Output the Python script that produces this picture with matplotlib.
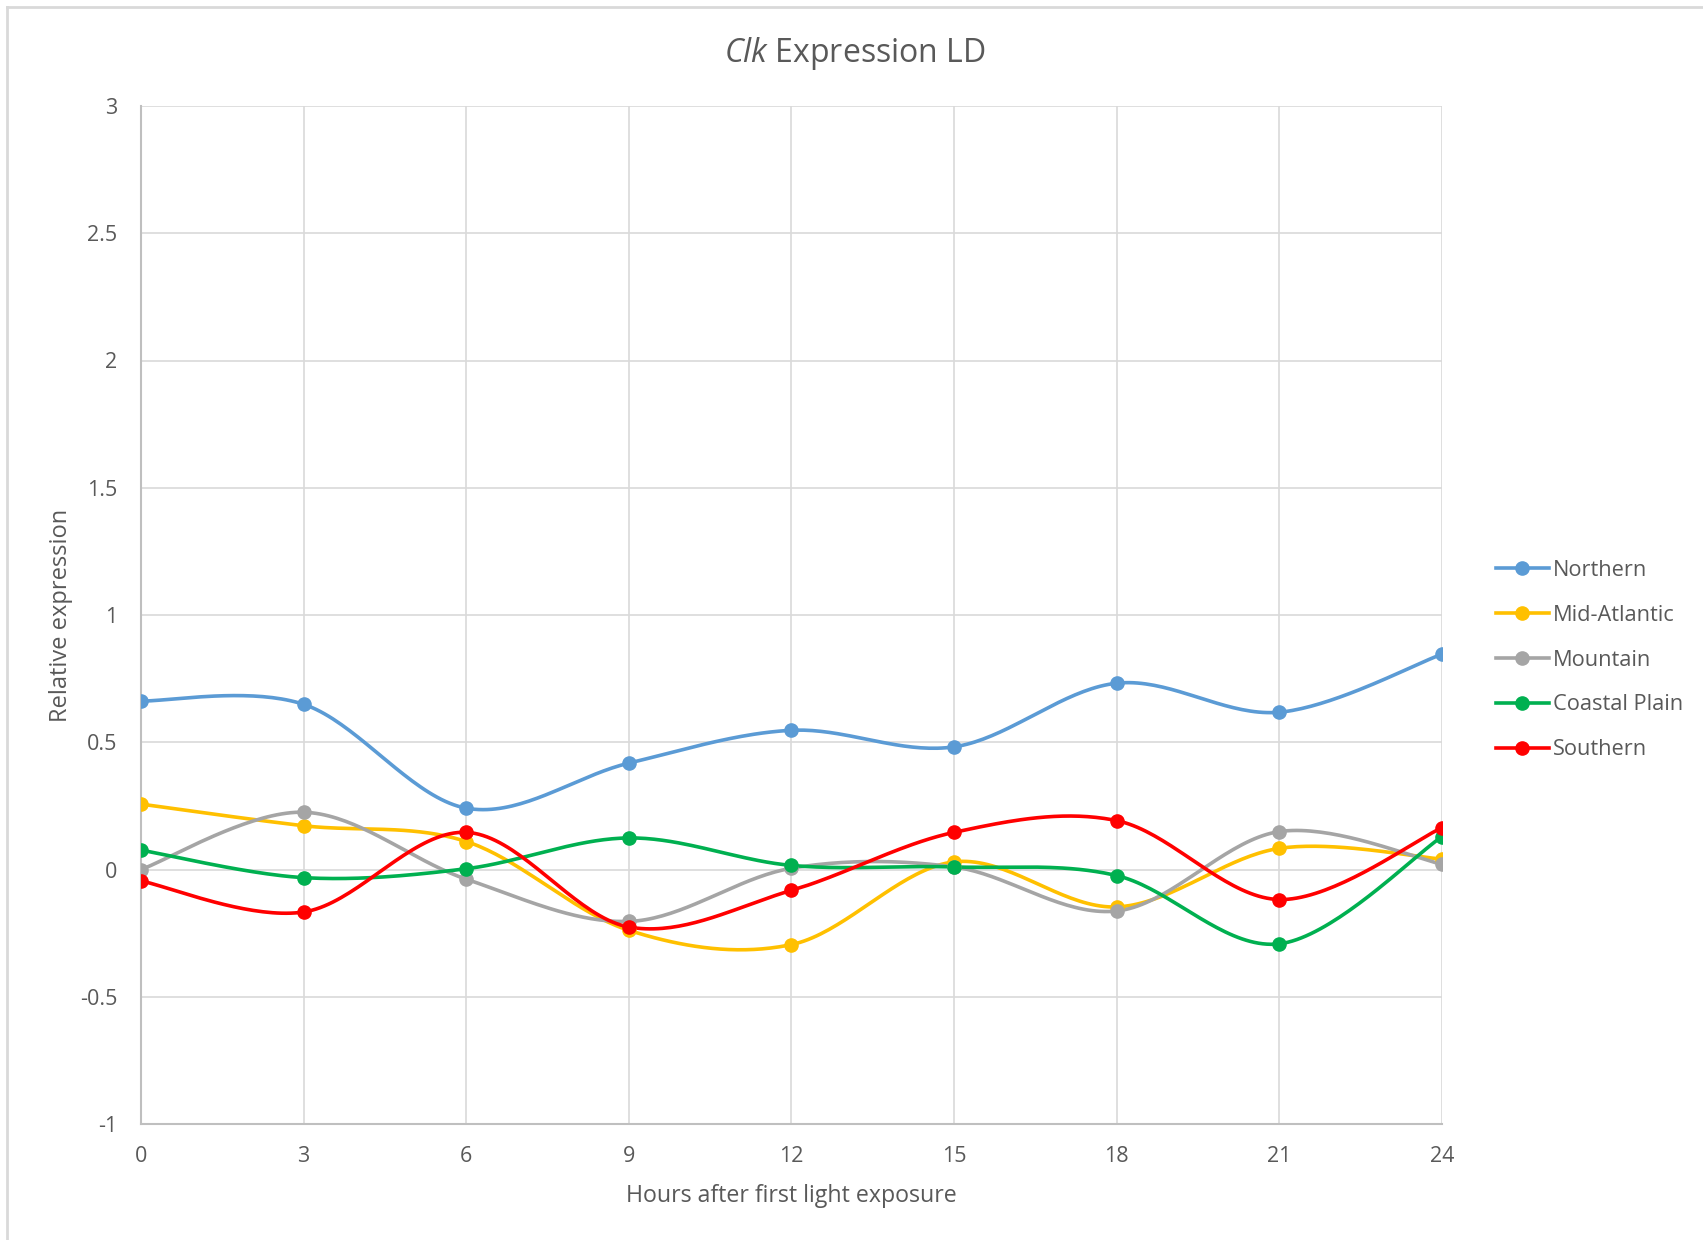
import numpy as np
import matplotlib.pyplot as plt
from matplotlib.lines import Line2D

plt.rcParams['font.family'] = ['Open Sans', 'DejaVu Sans']
plt.rcParams['mathtext.fontset'] = 'custom'
plt.rcParams['mathtext.it'] = 'Open Sans:italic'
plt.rcParams['mathtext.rm'] = 'Open Sans'

# sampling times (h) and relative Clk expression per region
hours = [0, 3, 6, 9, 12, 15, 18, 21, 24]
northern = [0.662, 0.649, 0.241, 0.418, 0.547, 0.482, 0.732, 0.618, 0.846]
mid_atlantic = [0.257, 0.172, 0.110, -0.239, -0.295, 0.030, -0.147, 0.083, 0.041]
mountain = [0.000, 0.225, -0.038, -0.204, 0.005, 0.010, -0.163, 0.149, 0.021]
coastal_plain = [0.076, -0.032, 0.003, 0.124, 0.016, 0.010, -0.024, -0.292, 0.129]
southern = [-0.045, -0.167, 0.146, -0.226, -0.082, 0.146, 0.192, -0.118, 0.164]

series = [
    ("Northern", northern, "#5B9BD5"),
    ("Mid-Atlantic", mid_atlantic, "#FFC000"),
    ("Mountain", mountain, "#A5A5A5"),
    ("Coastal Plain", coastal_plain, "#00B050"),
    ("Southern", southern, "#FF0000"),
]

TEXT = "#595959"


def smooth(x, y, n=40):
    """Bezier smoothing through every point, control points from neighbours."""
    p = np.column_stack([x, y]).astype(float)
    ext = np.vstack([p[0], p, p[-1]])
    t = np.linspace(0, 1, n)[:, None]
    out = []
    for i in range(len(p) - 1):
        p0, p3 = ext[i + 1], ext[i + 2]
        c1 = p0 + (ext[i + 2] - ext[i]) / 6
        c2 = p3 - (ext[i + 3] - ext[i + 1]) / 6
        seg = ((1 - t) ** 3) * p0 + 3 * ((1 - t) ** 2) * t * c1 \
            + 3 * (1 - t) * t ** 2 * c2 + t ** 3 * p3
        out.append(seg if i == 0 else seg[1:])
    out = np.vstack(out)
    return out[:, 0], out[:, 1]


fig = plt.figure(figsize=(17.03, 12.40), dpi=100)
ax = fig.add_axes([141 / 1703, 1 - 1124 / 1240, 1301 / 1703, 1018 / 1240])

for name, vals, col in series:
    sx, sy = smooth(hours, vals)
    ax.plot(sx, sy, color=col, lw=2.6, solid_capstyle='round', zorder=3)
    ax.plot(hours, vals, 'o', color=col, ms=9.5, zorder=4)

ax.set_xlim(0, 24)
ax.set_ylim(-1, 3)
ax.set_xticks(hours)
ax.set_yticks(np.arange(-1, 3.01, 0.5))
ax.set_yticklabels(["-1", "-0.5", "0", "0.5", "1", "1.5", "2", "2.5", "3"])
ax.grid(True, color="#D9D9D9", lw=1.2, zorder=0)
ax.tick_params(length=0, labelsize=15.5, colors=TEXT)
ax.tick_params(axis='y', pad=17)
ax.tick_params(axis='x', pad=16)
for s in ["top", "right"]:
    ax.spines[s].set_visible(False)
for s in ["left", "bottom"]:
    ax.spines[s].set_color("#BFBFBF")
    ax.spines[s].set_linewidth(1.5)

ax.set_xlabel("Hours after first light exposure", fontsize=16.7, color=TEXT, labelpad=12)
ax.set_ylabel("Relative expression", fontsize=17, color=TEXT, labelpad=5)

fig.text(0.502, 1 - 54 / 1240, r"$\mathit{Clk}$ Expression LD", fontsize=23,
         color=TEXT, ha='center', va='center')

handles = [Line2D([0], [0], color=c, lw=2.6, marker='o', ms=9.5) for _, _, c in series]
fig.legend(handles, [n for n, _, _ in series], loc='center left',
           bbox_to_anchor=(1476 / 1703, 1 - 660 / 1240), frameon=False,
           fontsize=15.7, labelcolor=TEXT, handlelength=2.45, handletextpad=0.18,
           labelspacing=1.1)

# chart area outline: top and left edges
fig.add_artist(Line2D([7 / 1703, 1], [1 - 7 / 1240, 1 - 7 / 1240],
                      color="#D9D9D9", lw=2, transform=fig.transFigure))
fig.add_artist(Line2D([7 / 1703, 7 / 1703], [0, 1 - 7 / 1240],
                      color="#D9D9D9", lw=2, transform=fig.transFigure))

fig.savefig("out.png", dpi=100, facecolor="white")
